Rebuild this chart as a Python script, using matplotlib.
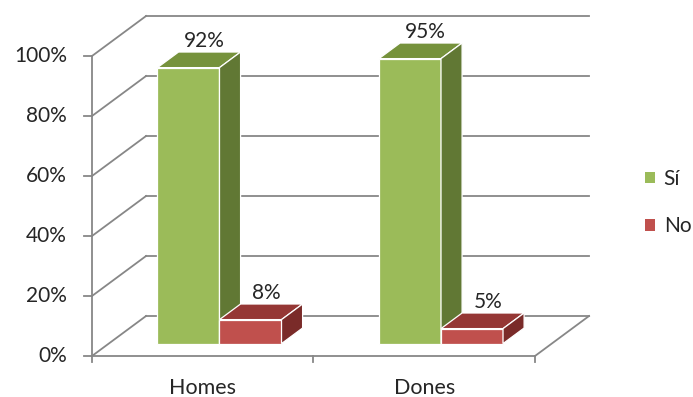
import matplotlib
matplotlib.use('Agg')
import matplotlib.pyplot as plt
from matplotlib.patches import Polygon, Patch

# datos
categories = ['Homes', 'Dones']
series = ['Sí', 'No']
si_vals = [92, 95]
no_vals = [8, 5]
yticks = [0, 20, 40, 60, 80, 100]
ytick_labels = ['0%', '20%', '40%', '60%', '80%', '100%']

plt.rcParams['font.family'] = ['Lato', 'DejaVu Sans']

# desplazamiento de profundidad (pseudo 3D)
DX = 0.244
DV = 13.33
D0, D1 = 0.31, 0.70
BAR_W = 0.28
GRID = '#878787'
TXT = '#262626'

fig = plt.figure(figsize=(6.93, 3.97), dpi=100)
ax = fig.add_axes([0, 0, 1, 1])
ax.set_xlim(-0.4153, 2.7133)
ax.set_ylim(-13.67, 118.67)
ax.axis('off')

# paredes y rejilla
for t in yticks:
    ax.plot([0, DX], [t, t + DV], color=GRID, lw=1.3, zorder=1)
    ax.plot([DX, len(categories) + DX], [t + DV, t + DV], color=GRID, lw=1.3, zorder=1)
    ax.plot([-0.036, 0], [t, t], color=GRID, lw=1.3, zorder=1)
ax.plot([0, 0], [0, yticks[-1]], color=GRID, lw=1.3, zorder=1)
ax.plot([0, len(categories)], [0, 0], color=GRID, lw=1.3, zorder=1)
ax.plot([len(categories), len(categories) + DX], [0, DV], color=GRID, lw=1.3, zorder=1)
for i in range(len(categories) + 1):
    ax.plot([i, i], [0, -2], color=GRID, lw=1.3, zorder=1)

for t, lab in zip(yticks, ytick_labels):
    ax.text(-0.113, t, lab, ha='right', va='center', fontsize=15, color=TXT)
for i, c in enumerate(categories):
    ax.text(i + 0.5, -10.6, c, ha='center', va='center', fontsize=15.5, color=TXT)


def box(x0, h, front, top, side, z):
    fx = x0 + D0 * DX
    bx = x0 + D1 * DX
    fy = D0 * DV
    by = D1 * DV
    faces = [
        ([(fx, fy), (fx + BAR_W, fy), (fx + BAR_W, fy + h), (fx, fy + h)], front),
        ([(fx, fy + h), (fx + BAR_W, fy + h), (bx + BAR_W, by + h), (bx, by + h)], top),
        ([(fx + BAR_W, fy), (bx + BAR_W, by), (bx + BAR_W, by + h), (fx + BAR_W, fy + h)], side),
    ]
    for pts, col in faces:
        ax.add_patch(Polygon(pts, closed=True, facecolor=col, edgecolor='white',
                             lw=0.9, zorder=z))


colors = {
    'Sí': ('#9BBB59', '#76923C', '#617834'),
    'No': ('#C0504D', '#953735', '#7A2B29'),
}
for i in range(len(categories)):
    for k, (name, vals, off) in enumerate([('Sí', si_vals, 0.22), ('No', no_vals, 0.50)]):
        x0 = i + off
        h = vals[i]
        box(x0, h, *colors[name], z=3 + k)
        ax.text(x0 + BAR_W / 2 + 0.6 * DX, h + D1 * DV + 0.2, f'{h}%',
                ha='center', va='bottom', fontsize=15, color=TXT, zorder=6)

handles = [Patch(facecolor=colors[s][0], edgecolor='none') for s in series]
ax.legend(handles, series, loc='center left', bbox_to_anchor=(645 / 693, 0.49),
          frameon=False, fontsize=15, handlelength=0.5, handleheight=0.5,
          handletextpad=0.4, labelspacing=1.3, labelcolor=TXT,
          borderpad=0, borderaxespad=0)

fig.savefig('out.png', dpi=100)
